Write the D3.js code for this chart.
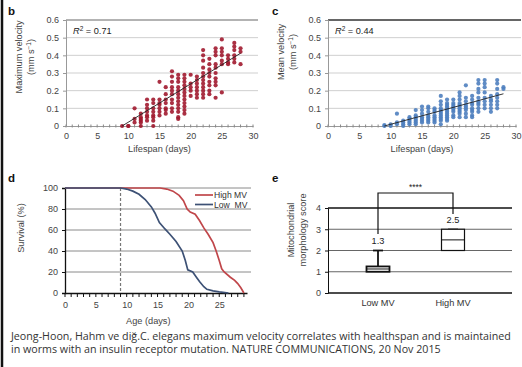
<!DOCTYPE html>
<html>
<head>
<meta charset="utf-8">
<script src="https://cdn.jsdelivr.net/npm/d3@7/dist/d3.min.js"></script>
<style>
  body { margin: 0; background: #fff; }
  svg { display: block; font-family: "Liberation Sans", Arial, sans-serif; }
</style>
</head>
<body>
<div id="chart"></div>
<script>
// ---- data ----
const scatterDays = [9, 10, 11, 12, 13, 14, 15, 16, 17, 18, 19, 20, 21, 22, 23, 24, 25, 26, 27, 28];

// panel b: maximum velocity per worm, grouped by lifespan day
const maxVelocity = [
  [0],
  [0, 0],
  [0.1, 0.04, 0.02],
  [0.07, 0.05, 0.04, 0.03, 0.02, 0],
  [0.15, 0.12, 0.1, 0.08, 0.06, 0.05, 0.03],
  [0.15, 0.13, 0.1, 0.08, 0.06, 0.05, 0.03, 0],
  [0.25, 0.15, 0.13, 0.12, 0.1, 0.08, 0.06],
  [0.22, 0.18, 0.15, 0.13, 0.1, 0.09, 0.07],
  [0.31, 0.28, 0.25, 0.22, 0.2, 0.18, 0.15, 0.13, 0.1, 0.08],
  [0.29, 0.27, 0.25, 0.22, 0.2, 0.18, 0.16, 0.14, 0.12, 0.1, 0.08, 0.05, 0.04],
  [0.29, 0.27, 0.25, 0.23, 0.21, 0.19, 0.17, 0.15, 0.13, 0.11, 0.09, 0.07],
  [0.29, 0.24, 0.22, 0.2, 0.17],
  [0.28, 0.26, 0.24, 0.22, 0.2, 0.18, 0.16],
  [0.43, 0.4, 0.37, 0.33, 0.3, 0.28, 0.26, 0.24, 0.22, 0.2, 0.18, 0.16],
  [0.38, 0.35, 0.32, 0.3, 0.28, 0.25, 0.23, 0.2, 0.18],
  [0.44, 0.42, 0.4, 0.35, 0.33, 0.3, 0.27, 0.25, 0.23, 0.16],
  [0.49, 0.44, 0.42, 0.4, 0.37, 0.35, 0.19],
  [0.4, 0.38, 0.36, 0.35],
  [0.47, 0.45, 0.43, 0.4, 0.38, 0.36],
  [0.44, 0.42, 0.35]
];

// panel c: mean velocity per worm, grouped by lifespan day
const meanVelocity = [
  [0.005, 0],
  [0.01, 0],
  [0.07, 0.02, 0.01],
  [0.03, 0.02, 0.01, 0],
  [0.05, 0.04, 0.03, 0.02, 0.01],
  [0.09, 0.06, 0.05, 0.04, 0.03, 0.02, 0.01],
  [0.11, 0.09, 0.07, 0.05, 0.04, 0.03, 0.02],
  [0.11, 0.1, 0.08, 0.06, 0.05, 0.04, 0.03, 0.02],
  [0.1, 0.09, 0.08, 0.06, 0.05, 0.04, 0.03, 0.02],
  [0.17, 0.14, 0.12, 0.1, 0.09, 0.08, 0.07, 0.06, 0.05, 0.04, 0.03, 0.01],
  [0.15, 0.13, 0.12, 0.11, 0.1, 0.09, 0.08, 0.07, 0.06, 0.05, 0.04, 0.03],
  [0.15, 0.13, 0.12, 0.11, 0.1, 0.09, 0.08, 0.06, 0.05],
  [0.19, 0.17, 0.15, 0.13, 0.12, 0.11, 0.1, 0.09, 0.08, 0.07, 0.05],
  [0.23, 0.16, 0.14, 0.12, 0.11, 0.1, 0.09, 0.07, 0.05],
  [0.17, 0.15, 0.13, 0.12, 0.1, 0.09, 0.08, 0.06, 0.05],
  [0.26, 0.24, 0.21, 0.19, 0.16, 0.14, 0.13, 0.12, 0.1, 0.08],
  [0.26, 0.24, 0.22, 0.19, 0.16, 0.14, 0.12, 0.1],
  [0.17, 0.15, 0.14, 0.12, 0.1, 0.08],
  [0.26, 0.24, 0.21, 0.18, 0.16, 0.14, 0.12, 0.1],
  [0.22, 0.21]
];

// panel d: survival curves (age in days, % alive)
const lowMvAge      = [0, 9, 10, 11, 12, 13, 14, 14.6, 15.3, 16.2, 17, 18, 19, 19.5, 19.9, 20.7, 21.3, 21.8, 22.5, 23, 24, 25, 26.5];
const lowMvSurvival = [100, 100, 99, 97, 94, 89, 82, 76, 67, 61, 56, 49, 40, 31, 22, 20, 15, 11, 6, 3.5, 2, 1, 0];
const highMvAge      = [0, 15.4, 16.5, 17.5, 18.5, 19.2, 19.8, 20.3, 21.1, 21.8, 22.5, 23.2, 24, 24.5, 25, 25.4, 25.8, 26.8, 27.5, 28, 28.5, 29];
const highMvSurvival = [100, 100, 99, 97, 93, 88, 80, 77, 75, 69, 62, 56, 48, 40, 31, 23, 20, 15, 12, 9, 5, 0];
const cutoffDay = 9;

// panel e: mitochondrial morphology score box plots
const boxGroups = ["Low MV", "High MV"];
const boxMin    = [1, 2];
const boxQ1     = [1, 2];
const boxMedian = [1.13, 2.5];
const boxQ3     = [1.25, 3];
const boxMax    = [2, 3];
const boxMean   = ["1.3", "2.5"];

const captionLines = [
  "Jeong-Hoon, Hahm ve diğ.C. elegans maximum velocity correlates with healthspan and is maintained",
  "in worms with an insulin receptor mutation. NATURE COMMUNICATIONS, 20 Nov 2015"
];

// ---- drawing ----
const W = 522, H = 367;
const svg = d3.select("#chart").append("svg")
  .attr("width", W)
  .attr("height", H);

svg.append("rect").attr("width", W).attr("height", H).attr("fill", "#fff");
// left border of the figure
svg.append("line")
  .attr("x1", 2).attr("x2", 2).attr("y1", 0).attr("y2", H)
  .attr("stroke", "#111").attr("stroke-width", 2.5);

const axisText = "#444";
const tickFont = 9;
const titleFont = 9.2;

function styleTicks(a) {
  a.selectAll("text").attr("font-size", tickFont).attr("fill", axisText)
    .attr("font-family", "Liberation Sans, Arial, sans-serif");
}

function panelLetter(x, y, t) {
  svg.append("text")
    .attr("x", x).attr("y", y)
    .attr("font-size", 11.5).attr("font-weight", "bold")
    .attr("fill", "#111")
    .text(t);
}

function yTitle(cx, cy, lines, gap) {
  lines.forEach((l, i) => {
    const x = cx + (i - (lines.length - 1) / 2) * gap;
    const t = svg.append("text")
      .attr("transform", `translate(${x},${cy}) rotate(-90)`)
      .attr("text-anchor", "middle")
      .attr("dy", "0.35em")
      .attr("font-size", titleFont)
      .attr("fill", axisText);
    if (typeof l === "string") t.text(l);
    else l(t);
  });
}

function unitLabel(t) {
  t.append("tspan").text("(mm s");
  t.append("tspan").attr("baseline-shift", "super").attr("font-size", 6.5).text("−1");
  t.append("tspan").text(")");
}

function linReg(pts) {
  const mx = d3.mean(pts, d => d[0]);
  const my = d3.mean(pts, d => d[1]);
  const sxy = d3.sum(pts, d => (d[0] - mx) * (d[1] - my));
  const sxx = d3.sum(pts, d => (d[0] - mx) ** 2);
  const b = sxy / sxx;
  return { slope: b, intercept: my - b * mx };
}

function scatterPanel(opts) {
  const x = d3.scaleLinear().domain([0, 30]).range(opts.xRange);
  const y = d3.scaleLinear().domain([0, 0.6]).range([126, 20]);
  const g = svg.append("g");

  // gridlines
  g.selectAll("line.grid")
    .data(d3.range(0.1, 0.61, 0.1))
    .enter().append("line")
      .attr("x1", x(0)).attr("x2", x(30) + 5)
      .attr("y1", d => y(d)).attr("y2", d => y(d))
      .attr("stroke", (d, i) => i === 5 ? opts.topColor : "#cfcfcf")
      .attr("stroke-width", (d, i) => i === 5 ? 1.3 : 1);

  // y axis
  g.append("g")
    .attr("transform", `translate(${x(0)},0)`)
    .call(d3.axisLeft(y).tickValues(d3.range(0, 0.61, 0.1)).tickSize(3).tickPadding(4)
      .tickFormat(d => d === 0 ? "0" : d3.format(".1f")(d)))
    .call(a => a.select(".domain").attr("stroke", "#999"))
    .call(a => a.selectAll(".tick line").attr("stroke", "#999"))
    .call(styleTicks);

  // x axis with a tick each day
  const xa = g.append("g").attr("transform", `translate(0,${y(0)})`);
  xa.call(d3.axisBottom(x).tickValues(d3.range(0, 31, 5)).tickSize(0).tickPadding(7))
    .call(a => a.select(".domain").attr("stroke", "#999"))
    .call(styleTicks);
  xa.selectAll("line.minor")
    .data(d3.range(0, 31))
    .enter().append("line")
      .attr("x1", d => x(d)).attr("x2", d => x(d))
      .attr("y1", -1.5).attr("y2", 1.5)
      .attr("stroke", "#888");

  // points
  const pts = [];
  scatterDays.forEach((d, i) => opts.values[i].forEach(v => pts.push([d, v])));
  g.selectAll("circle")
    .data(pts)
    .enter().append("circle")
      .attr("cx", d => x(d[0]))
      .attr("cy", d => y(d[1]))
      .attr("r", 2.1)
      .attr("fill", opts.color)
      .attr("fill-opacity", 0.9);

  // trend line
  const fit = linReg(pts);
  const x0 = d3.min(pts, d => d[0]), x1 = d3.max(pts, d => d[0]);
  g.append("line")
    .attr("x1", x(x0)).attr("y1", y(Math.max(0, fit.intercept + fit.slope * x0)))
    .attr("x2", x(x1)).attr("y2", y(fit.intercept + fit.slope * x1))
    .attr("stroke", "#222").attr("stroke-width", 0.9);

  // R² label
  const r = g.append("text")
    .attr("x", x(0) + 7).attr("y", 34)
    .attr("font-size", 9.2).attr("fill", "#222");
  r.append("tspan").attr("font-style", "italic").text("R");
  r.append("tspan").attr("baseline-shift", "super").attr("font-size", 6.5).text("2");
  r.append("tspan").text(" = " + opts.r2);

  // x title
  svg.append("text")
    .attr("x", x(15)).attr("y", 152)
    .attr("text-anchor", "middle")
    .attr("font-size", titleFont).attr("fill", axisText)
    .text("Lifespan (days)");
}

// panel b
panelLetter(8, 15, "b");
scatterPanel({ xRange: [66, 253], values: maxVelocity, color: "#a11a2f", topColor: "#9a9a9a", r2: "0.71" });
yTitle(25, 57, ["Maximum velocity", unitLabel], 11.5);

// panel c
panelLetter(272, 15, "c");
scatterPanel({ xRange: [328, 516], values: meanVelocity, color: "#4f7fbf", topColor: "#333", r2: "0.44" });
yTitle(287, 52, ["Mean velocity", unitLabel], 11.5);

// panel d: survival
panelLetter(8, 182, "d");
{
  const x = d3.scaleLinear().domain([0, 29.5]).range([65, 247]);
  const y = d3.scaleLinear().domain([0, 100]).range([293, 188]);
  const g = svg.append("g");

  g.selectAll("line.grid")
    .data([20, 40, 60, 80, 100])
    .enter().append("line")
      .attr("x1", x(0)).attr("x2", x(29.5) + 4)
      .attr("y1", d => y(d)).attr("y2", d => y(d))
      .attr("stroke", "#8a8a8a").attr("stroke-width", 1);

  g.append("g")
    .attr("transform", `translate(${x(0)},0)`)
    .call(d3.axisLeft(y).tickValues(d3.range(0, 101, 20)).tickSize(3).tickPadding(4))
    .call(a => a.select(".domain").attr("stroke", "#111").attr("stroke-width", 1.3))
    .call(a => a.selectAll(".tick line").attr("stroke", "#111"))
    .call(styleTicks);

  const xa = g.append("g").attr("transform", `translate(0,${y(0)})`);
  xa.call(d3.axisBottom(x).tickValues(d3.range(0, 26, 5)).tickSize(0).tickPadding(9))
    .call(a => a.select(".domain").attr("stroke", "#111").attr("stroke-width", 1.3))
    .call(styleTicks);
  xa.selectAll("line.minor")
    .data(d3.range(0, 30))
    .enter().append("line")
      .attr("x1", d => x(d)).attr("x2", d => x(d))
      .attr("y1", 0).attr("y2", 4)
      .attr("stroke", "#111");

  g.append("line")
    .attr("x1", x(cutoffDay)).attr("x2", x(cutoffDay))
    .attr("y1", y(100)).attr("y2", y(0))
    .attr("stroke", "#777").attr("stroke-width", 1.2)
    .attr("stroke-dasharray", "3,2");

  const line = d3.line().x(d => x(d[0])).y(d => y(d[1]));
  g.append("path")
    .datum(d3.zip(highMvAge, highMvSurvival))
    .attr("d", line).attr("fill", "none")
    .attr("stroke", "#c0464a").attr("stroke-width", 1.7);
  g.append("path")
    .datum(d3.zip(lowMvAge, lowMvSurvival))
    .attr("d", line).attr("fill", "none")
    .attr("stroke", "#3d5175").attr("stroke-width", 1.7);

  // legend
  const leg = [["High MV", "#c0464a"], ["Low  MV", "#3d5175"]];
  leg.forEach((l, i) => {
    const ly = 195 + i * 9.5;
    g.append("line")
      .attr("x1", 195).attr("x2", 213).attr("y1", ly).attr("y2", ly)
      .attr("stroke", l[1]).attr("stroke-width", 1.7);
    g.append("text")
      .attr("x", 214).attr("y", ly).attr("dy", "0.35em")
      .attr("font-size", 8.6).attr("fill", "#333")
      .attr("xml:space", "preserve")
      .text(l[0]);
  });

  svg.append("text")
    .attr("x", x(13.5)).attr("y", 324)
    .attr("text-anchor", "middle")
    .attr("font-size", titleFont).attr("fill", axisText)
    .text("Age (days)");
  yTitle(21, 228, ["Survival (%)"], 0);
}

// panel e: box plots
panelLetter(272, 182, "e");
{
  const x = d3.scalePoint().domain(boxGroups).range([378, 453]);
  const y = d3.scaleLinear().domain([0, 4]).range([293, 208]);
  const g = svg.append("g");
  const right = 512;

  g.selectAll("line.grid")
    .data([1, 2, 3, 4])
    .enter().append("line")
      .attr("x1", 328).attr("x2", right)
      .attr("y1", d => y(d)).attr("y2", d => y(d))
      .attr("stroke", d => d === 4 ? "#111" : "#666")
      .attr("stroke-width", d => d === 4 ? 1.3 : 1);

  g.append("g")
    .attr("transform", "translate(328,0)")
    .call(d3.axisLeft(y).tickValues([0, 1, 2, 3, 4]).tickSize(3).tickPadding(4).tickFormat(d3.format("d")))
    .call(a => a.select(".domain").attr("stroke", "#111"))
    .call(a => a.selectAll(".tick line").attr("stroke", "#111"))
    .call(styleTicks);

  g.append("line")
    .attr("x1", 328).attr("x2", right)
    .attr("y1", y(0)).attr("y2", y(0))
    .attr("stroke", "#111").attr("stroke-width", 1.3);

  g.selectAll("text.cat")
    .data(boxGroups)
    .enter().append("text")
      .attr("x", d => x(d)).attr("y", 306)
      .attr("text-anchor", "middle")
      .attr("font-size", 9.2).attr("fill", "#333")
      .text(d => d);

  const bw = 23;
  boxGroups.forEach((k, i) => {
    const cx = x(k);
    const sw = i === 0 ? 1.8 : 1.2;
    // whiskers
    g.append("line")
      .attr("x1", cx).attr("x2", cx)
      .attr("y1", y(boxMax[i])).attr("y2", y(boxQ3[i]))
      .attr("stroke", "#111").attr("stroke-width", sw);
    g.append("line")
      .attr("x1", cx - 5).attr("x2", cx + 5)
      .attr("y1", y(boxMax[i])).attr("y2", y(boxMax[i]))
      .attr("stroke", "#111").attr("stroke-width", sw);
    // box
    g.append("rect")
      .attr("x", cx - bw / 2).attr("width", bw)
      .attr("y", y(boxQ3[i])).attr("height", y(boxQ1[i]) - y(boxQ3[i]))
      .attr("fill", "#fff").attr("stroke", "#111").attr("stroke-width", sw);
    g.append("line")
      .attr("x1", cx - bw / 2).attr("x2", cx + bw / 2)
      .attr("y1", y(boxMedian[i])).attr("y2", y(boxMedian[i]))
      .attr("stroke", "#111").attr("stroke-width", 1);
  });

  // mean labels
  const labelY = [241, 220];
  boxGroups.forEach((k, i) => {
    g.append("text")
      .attr("x", x(k)).attr("y", labelY[i])
      .attr("text-anchor", "middle").attr("dy", "0.35em")
      .attr("font-size", 9.2).attr("fill", "#222")
      .text(boxMean[i]);
  });

  // significance bracket
  const top = 193;
  g.append("path")
    .attr("d", `M${x("Low MV")},${labelY[0] - 7}V${top}H${x("High MV")}V${labelY[1] - 6}`)
    .attr("fill", "none").attr("stroke", "#111").attr("stroke-width", 1.2);
  g.append("text")
    .attr("x", (x("Low MV") + x("High MV")) / 2).attr("y", 190)
    .attr("text-anchor", "middle")
    .attr("font-size", 8.5).attr("fill", "#222")
    .text("****");

  yTitle(297, 230, ["Mitochondrial", "morphology score"], 11.5);
}

// caption
svg.selectAll("text.caption")
  .data(captionLines)
  .enter().append("text")
    .attr("x", 11).attr("y", (d, i) => 340 + i * 13)
    .attr("font-family", "Open Sans, sans-serif")
    .attr("font-size", 10.7).attr("fill", "#333")
    .text(d => d);
</script>
</body>
</html>
